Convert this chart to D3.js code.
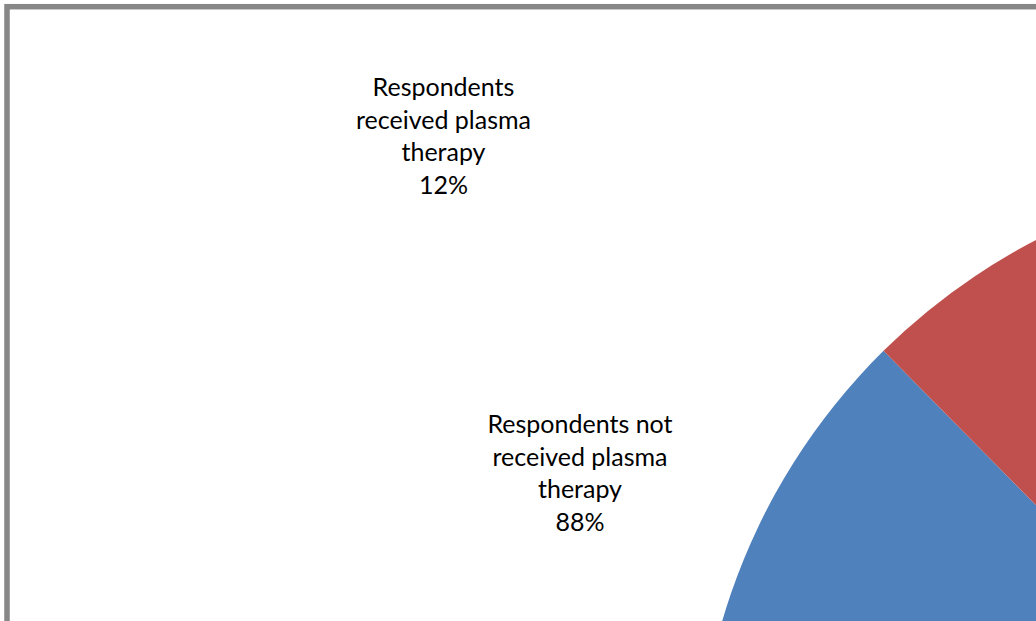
<!DOCTYPE html>
<html><head><meta charset="utf-8">
<script src="https://cdn.jsdelivr.net/npm/d3@7"></script>
<style>html,body{margin:0;padding:0;background:#fff;overflow:hidden}</style>
</head><body>
<svg id="c" width="1036" height="621"></svg>
<script>
const categories = ["Respondents not received plasma therapy", "Respondents received plasma therapy"];
const values = [88, 12];
const labelLines = [
  ["Respondents not", "received plasma", "therapy", "88%"],
  ["Respondents", "received plasma", "therapy", "12%"]
];
const colors = ["#4F81BD", "#C0504D"];

const svg = d3.select("#c");
const W = 1036, H = 621;
svg.append("rect").attr("width", W).attr("height", H).attr("fill", "#fff");

// chart border (clipped at right/bottom)
svg.append("rect")
  .attr("x", 7).attr("y", 6.7).attr("width", 1200).attr("height", 800)
  .attr("fill", "none").attr("stroke", "#878787").attr("stroke-width", 5.5);

const cx = 1324, cy = 797, R = 627;
const rot = -0.025;
const pie = d3.pie().sort(null).value(d => d).startAngle(rot).endAngle(2 * Math.PI + rot);
const arc = d3.arc().innerRadius(0).outerRadius(R);
const g = svg.append("g").attr("transform", `translate(${cx},${cy})`);
g.selectAll("path").data(pie(values)).join("path")
  .attr("d", arc).attr("fill", (d, i) => colors[i]);

// labels
const font = "Lato, 'Open Sans', sans-serif";
const probe = svg.append("text").attr("font-family", font).attr("font-size", 100).text("received plasma");
const w100 = probe.node().getComputedTextLength();
probe.remove();
const fs = 100 * 175 / w100;

const labelPos = [
  {x: 580, y: 433},
  {x: 443.5, y: 96}
];
const lh = 32.5;
labelLines.forEach((lines, i) => {
  const t = svg.append("text").attr("font-family", font).attr("font-size", fs)
    .attr("fill", "#000").attr("text-anchor", "middle");
  lines.forEach((s, j) => {
    t.append("tspan").attr("x", labelPos[i].x).attr("y", labelPos[i].y + j * lh).text(s);
  });
});
</script>
</body></html>
